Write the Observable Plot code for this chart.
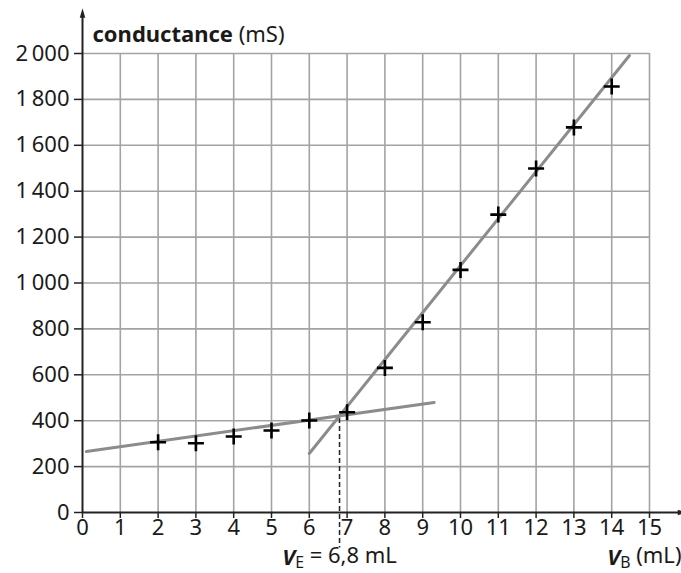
<!DOCTYPE html>
<html>
<head>
<meta charset="utf-8">
<script src="https://cdn.jsdelivr.net/npm/d3@7"></script>
<script src="https://cdn.jsdelivr.net/npm/@observablehq/plot@0.6"></script>
<style>
  html, body { margin: 0; padding: 0; background: #fff; }
  #chart svg { display: block; }
</style>
</head>
<body>
<div id="chart"></div>
<script>
// Measurements: volume V_B (mL) and conductance (mS)
const volumes = [2, 3, 4, 5, 6, 7, 8, 9, 10, 11, 12, 13, 14];
const conductance = [306, 302, 331, 357, 401, 437, 630, 829, 1057, 1298, 1499, 1678, 1856];

// Fitted straight lines (endpoints)
const line1X = [0.1, 9.3];
const line1Y = [266, 479];
const line2X = [6.0, 14.47];
const line2Y = [257, 1991];

// Equivalence volume
const VE = 6.8;
const VEtop = 410;

// Axis ticks and labels
const xTicks = [0, 1, 2, 3, 4, 5, 6, 7, 8, 9, 10, 11, 12, 13, 14, 15];
const yTicks = [0, 200, 400, 600, 800, 1000, 1200, 1400, 1600, 1800, 2000];
const yTickLabels = ["0", "200", "400", "600", "800", "1\u2009000", "1\u2009200", "1\u2009400", "1\u2009600", "1\u2009800", "2\u2009000"];
const xGrid = [1, 2, 3, 4, 5, 6, 7, 8, 9, 10, 11, 12, 13, 14, 15];
const yGrid = [200, 400, 600, 800, 1000, 1200, 1400, 1600, 1800, 2000];

const yTitle = "conductance (mS)";
const xTitle = "VB (mL)";
const veLabel = "VE = 6,8 mL";

const points = volumes.map((v, i) => ({x: v, y: conductance[i]}));
const fit1 = line1X.map((x, i) => ({x, y: line1Y[i]}));
const fit2 = line2X.map((x, i) => ({x, y: line2Y[i]}));

// thin "+" symbol
const plusSymbol = {
  draw(ctx, size) {
    const r = Math.sqrt(size / Math.PI);
    ctx.moveTo(-r, 0); ctx.lineTo(r, 0);
    ctx.moveTo(0, -r); ctx.lineTo(0, r);
  }
};
const triSymbol = {
  draw(ctx, size) {
    const r = Math.sqrt(size / Math.PI);
    ctx.moveTo(0, -r * 1.5); ctx.lineTo(r * 0.55, r * 0.4); ctx.lineTo(-r * 0.55, r * 0.4); ctx.closePath();
  }
};

const axisColor = "#222";
const gridColor = "#a3a3a3";
const fitColor = "#8c8c8c";

const chart = Plot.plot({
  width: 681,
  height: 573,
  marginLeft: 82,
  marginRight: 32,
  marginTop: 53,
  marginBottom: 61,
  style: {fontFamily: "'Noto Sans', sans-serif", fontSize: "22px", color: "#1a1a1a", background: "#fff", overflow: "visible"},
  x: {domain: [0, 15]},
  y: {domain: [0, 2000]},
  marks: [
    Plot.ruleX(xGrid, {stroke: gridColor, strokeWidth: 1.6}),
    Plot.ruleY(yGrid, {stroke: gridColor, strokeWidth: 1.6}),
    // dashed equivalence line
    Plot.ruleX([VE], {y1: VEtop, y2: -155, stroke: "#222", strokeWidth: 1.5, strokeDasharray: "5,3"}),
    // fitted lines
    Plot.line(fit1, {x: "x", y: "y", stroke: fitColor, strokeWidth: 3}),
    Plot.line(fit2, {x: "x", y: "y", stroke: fitColor, strokeWidth: 3}),
    // axes lines with arrows
    Plot.ruleY([0], {x1: 0, x2: 15.8, stroke: axisColor, strokeWidth: 2}),
    Plot.ruleX([0], {y1: 0, y2: 2165, stroke: axisColor, strokeWidth: 2}),
    Plot.dot([{x: 15.8, y: 0}], {x: "x", y: "y", symbol: triSymbol, r: 5, fill: axisColor, stroke: "none", rotate: 90}),
    Plot.dot([{x: 0, y: 2165}], {x: "x", y: "y", symbol: triSymbol, r: 5, fill: axisColor, stroke: "none"}),
    Plot.axisX({ticks: xTicks, tickFormat: d => String(d), tickSize: 6, tickPadding: 1, label: null, stroke: axisColor, strokeWidth: 1.5}),
    Plot.axisY({ticks: yTicks, tickFormat: (d, i) => yTickLabels[yTicks.indexOf(d)], tickSize: 8, tickPadding: 5, label: null, stroke: axisColor, strokeWidth: 1.5}),
    // measurement crosses
    Plot.dot(points, {x: "x", y: "y", symbol: plusSymbol, r: 8, stroke: "#000", strokeWidth: 2.6, fill: "none"}),
    // texts
    Plot.text([yTitle], {frameAnchor: "top-left", dx: 10, dy: -27, textAnchor: "start", fill: "#1a1a1a"}),
    Plot.text([xTitle], {frameAnchor: "bottom-right", dx: 32, dy: 52, textAnchor: "end", fill: "#1a1a1a"}),
    Plot.text([veLabel], {x: [VE], frameAnchor: "bottom", dy: 52, textAnchor: "middle", fill: "#1a1a1a"})
  ]
});

// rich-text formatting of the labels (bold, italic, subscripts)
d3.select(chart).selectAll("text").each(function() {
  const t = this.textContent;
  const sel = d3.select(this);
  if (t === yTitle) {
    sel.text(null);
    sel.append("tspan").attr("font-weight", "bold").text("conductance");
    sel.append("tspan").text(" (mS)");
  } else if (t === xTitle) {
    sel.text(null);
    sel.append("tspan").attr("font-style", "italic").attr("font-weight", "bold").text("V");
    sel.append("tspan").attr("font-size", "0.72em").attr("dy", "0.2em").text("B");
    sel.append("tspan").attr("dy", "-0.2em").text(" (mL)");
  } else if (t === veLabel) {
    sel.text(null);
    sel.append("tspan").attr("font-style", "italic").attr("font-weight", "bold").text("V");
    sel.append("tspan").attr("font-size", "0.72em").attr("dy", "0.2em").text("E");
    sel.append("tspan").attr("dy", "-0.2em").text(" = 6,8 mL");
  }
});

document.getElementById("chart").appendChild(chart);
</script>
</body>
</html>
